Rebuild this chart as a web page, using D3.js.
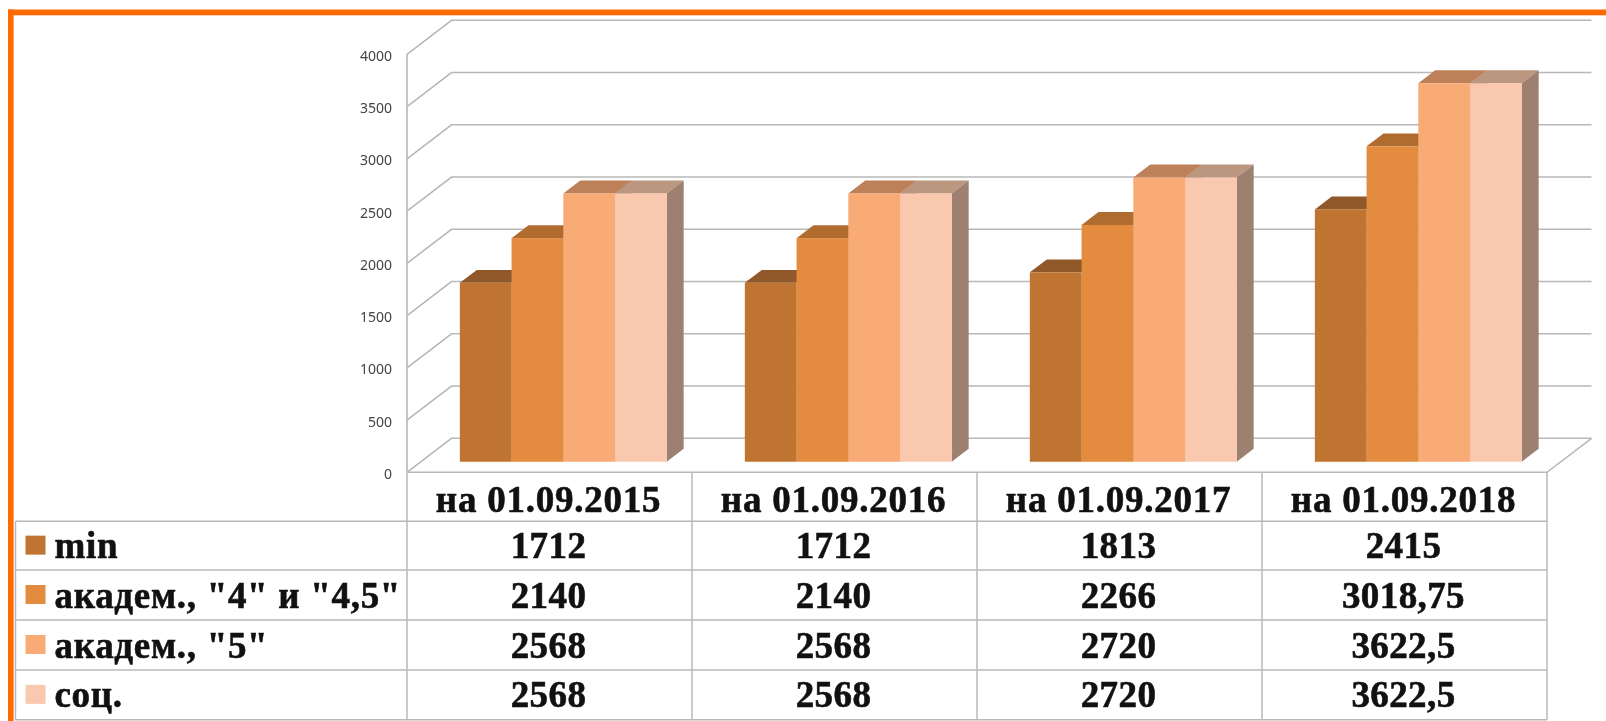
<!DOCTYPE html>
<html>
<head>
<meta charset="utf-8">
<script src="https://cdn.jsdelivr.net/npm/d3@7"></script>
<style>
body { margin: 0; background: #fff; }
svg { display: block; filter: blur(0.6px); }
</style>
</head>
<body>
<script>
const width = 1606;
const height = 721;

const categories = ["на 01.09.2015", "на 01.09.2016", "на 01.09.2017", "на 01.09.2018"];
const seriesNames = ["min", 'академ., "4" и "4,5"', 'академ., "5"', "соц."];
const minValues = [1712, 1712, 1813, 2415];
const acad4Values = [2140, 2140, 2266, 3018.75];
const acad5Values = [2568, 2568, 2720, 3622.5];
const socValues = [2568, 2568, 2720, 3622.5];
const yTicks = [0, 500, 1000, 1500, 2000, 2500, 3000, 3500, 4000];

const seriesValues = [minValues, acad4Values, acad5Values, socValues];
const frontColors = ["#bf7531", "#e38b3f", "#f8ab75", "#f9c8ae"];
const topColors = ["#91592a", "#b06c2e", "#be8058", "#bc9780"];
const sideColor = "#9e8070";
const gridColor = "#b8b8b8";

const plotLeft = 407, plotRight = 1547;
const floorY = 472.3, topY = 54.3;
const wallDx = 44.5, wallDy = 34;
const barFront = 0.31, barDepth = 0.38;
const rowLines = [472.3, 521.3, 570, 620, 670, 719.7];
const tableLeft = 15.5;

const x = d3.scaleBand().domain(categories).range([plotLeft, plotRight]).paddingInner(0.274).paddingOuter(0.137);
const xInner = d3.scaleBand().domain(d3.range(seriesNames.length)).range([0, x.bandwidth()]);
const xCol = d3.scaleBand().domain(categories).range([plotLeft, plotRight]);
const y = d3.scaleLinear().domain([0, 4000]).range([floorY, topY]);

// moves a front plane point back into the chart depth
function project(px, py, d) {
    return [px + wallDx * d, py - wallDy * d];
}

const svg = d3.select("body").append("svg")
    .attr("width", width)
    .attr("height", height);

// walls
const grid = svg.append("g")
    .attr("fill", "none")
    .attr("stroke", gridColor)
    .attr("stroke-width", 1.6);

grid.selectAll(".back").data(yTicks).enter().append("polyline")
    .attr("points", function(d) {
        let a = project(plotLeft, y(d), 0);
        let b = project(plotLeft, y(d), 1);
        let c = project(plotRight, y(d), 1);
        return [a, b, c].join(" ");
    });

grid.append("line")
    .attr("x1", plotLeft).attr("x2", plotLeft)
    .attr("y1", y(4000)).attr("y2", y(0));

grid.append("polyline")
    .attr("points", [[plotLeft, y(0)], [plotRight, y(0)], project(plotRight, y(0), 1)].join(" "));

// y axis labels
svg.append("g").selectAll("text").data(yTicks).enter().append("text")
    .attr("x", 392)
    .attr("y", function(d) { return y(d) + 1; })
    .attr("text-anchor", "end")
    .attr("dominant-baseline", "central")
    .attr("font-family", "'Noto Sans', sans-serif")
    .attr("font-size", 14)
    .attr("fill", "#444")
    .text(function(d) { return d; });

// bars, left to right so that the next front face hides the previous side
categories.forEach(function(cat, c) {
    let group = svg.append("g");
    seriesNames.forEach(function(name, s) {
        let v = seriesValues[s][c];
        let x0 = x(cat) + xInner(s);
        let x1 = x0 + xInner.bandwidth();
        let a = project(x0, y(v), barFront);
        let b = project(x1, y(v), barFront);
        let e = project(x1, y(0), barFront);
        let bTop = project(x1, y(v), barFront + barDepth);
        let aTop = project(x0, y(v), barFront + barDepth);
        let eBack = project(x1, y(0), barFront + barDepth);

        group.append("polygon")
            .attr("points", [a, aTop, bTop, b].join(" "))
            .attr("fill", topColors[s]);
        group.append("polygon")
            .attr("points", [b, bTop, eBack, e].join(" "))
            .attr("fill", sideColor);
        group.append("rect")
            .attr("x", a[0])
            .attr("y", a[1])
            .attr("width", b[0] - a[0])
            .attr("height", e[1] - a[1])
            .attr("fill", frontColors[s]);
    });
});

// data table
const table = svg.append("g")
    .attr("stroke", gridColor)
    .attr("stroke-width", 1.5);

table.selectAll(".row").data(rowLines.slice(1)).enter().append("line")
    .attr("x1", tableLeft).attr("x2", plotRight)
    .attr("y1", function(d) { return d; })
    .attr("y2", function(d) { return d; });

table.append("line")
    .attr("x1", tableLeft).attr("x2", tableLeft)
    .attr("y1", rowLines[1]).attr("y2", rowLines[5]);

table.selectAll(".col").data(categories).enter().append("line")
    .attr("x1", function(d) { return xCol(d); })
    .attr("x2", function(d) { return xCol(d); })
    .attr("y1", floorY).attr("y2", rowLines[5]);

table.append("line")
    .attr("x1", plotRight).attr("x2", plotRight)
    .attr("y1", floorY).attr("y2", rowLines[5]);

function tableText(sel, spacing) {
    return sel.attr("font-family", "'Liberation Serif', serif")
        .attr("font-weight", "bold")
        .attr("font-size", 37)
        .attr("letter-spacing", spacing)
        .attr("fill", "#111")
        .attr("stroke", "#111")
        .attr("stroke-width", 0.6)
        .attr("dominant-baseline", "central");
}

tableText(svg.append("g").selectAll("text").data(categories).enter().append("text"), 0.75)
    .attr("x", function(d) { return xCol(d) + xCol.bandwidth() / 2 - 1; })
    .attr("y", (rowLines[0] + rowLines[1]) / 2 + 3)
    .attr("text-anchor", "middle")
    .text(function(d) { return d; });

seriesNames.forEach(function(name, s) {
    let rowMid = (rowLines[s + 1] + rowLines[s + 2]) / 2;

    svg.append("rect")
        .attr("x", 25.5)
        .attr("y", rowMid - 10)
        .attr("width", 20)
        .attr("height", 19)
        .attr("fill", frontColors[s]);

    tableText(svg.append("text"), 0.7)
        .attr("x", 54.5)
        .attr("y", rowMid)
        .text(name);

    tableText(svg.append("g").selectAll("text").data(seriesValues[s]).enter().append("text"), 0.4)
        .attr("x", function(d, i) { return xCol(categories[i]) + xCol.bandwidth() / 2 - 1; })
        .attr("y", rowMid)
        .attr("text-anchor", "middle")
        .text(function(d) { return String(d).replace(".", ","); });
});

// orange frame
svg.append("rect").attr("x", 8).attr("y", 9.5).attr("width", width - 8).attr("height", 5.8).attr("fill", "#ff6a00");
svg.append("rect").attr("x", 8).attr("y", 9.5).attr("width", 5.6).attr("height", height - 9.5).attr("fill", "#ff6a00");
</script>
</body>
</html>
